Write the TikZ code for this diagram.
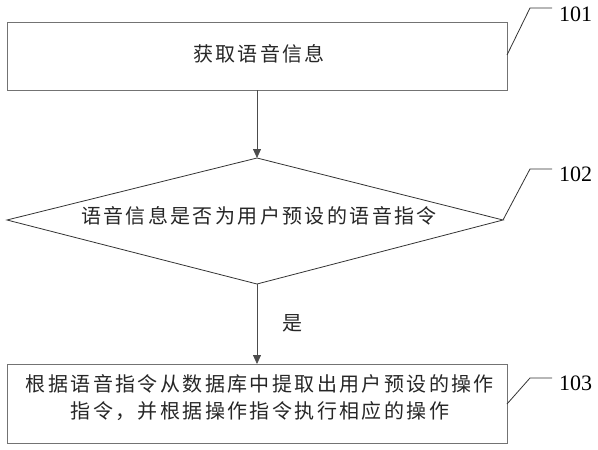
\documentclass[tikz,border=0pt]{standalone}
\usepackage{fontspec}
\setmainfont{Liberation Serif}
\newfontfamily\cjk[LetterSpace=12]{Noto Sans CJK SC}
\usetikzlibrary{shapes.geometric,arrows.meta}
\begin{document}
\begin{tikzpicture}[x=1pt,y=-1pt,
  boxst/.style={draw=black!55,line width=0.8pt},
  diast/.style={draw=black!80,line width=0.8pt},
  txt/.style={font=\cjk\fontsize{20}{27}\selectfont,text=black!85},
  lead/.style={draw=black!80,line width=0.8pt},
  numst/.style={font=\fontsize{22}{24}\selectfont,anchor=west,inner sep=0pt},
  arr/.style={draw=black!70,line width=0.8pt,-{Triangle[length=9pt,width=8pt]}}]
\useasboundingbox (0,0) rectangle (598,450);
% box 1
\coordinate (b1nw) at (7,22);
\coordinate (b1se) at (507,90);
\draw[boxst] (b1nw) rectangle (b1se);
\node[txt] (t1) at (259,54) {获取语音信息};
\coordinate (b1b) at (257,90);
% diamond
\coordinate (dT) at (257,158);
\coordinate (dR) at (503,220);
\coordinate (dB) at (257,284);
\coordinate (dL) at (7,220);
\draw[diast] (dT) -- (dR) -- (dB) -- (dL) -- cycle;
\node[txt] (t2) at (259,216) {语音信息是否为用户预设的语音指令};
% box 3
\coordinate (b3nw) at (7,364);
\coordinate (b3se) at (507,443);
\draw[boxst] (b3nw) rectangle (b3se);
\node[txt,align=center] (t3) at (260,398) {根据语音指令从数据库中提取出用户预设的操作\\指令，并根据操作指令执行相应的操作};
\coordinate (b3t) at (257,364);
% arrows
\draw[arr] (b1b) -- (dT);
\draw[arr] (dB) -- (b3t);
\node[txt] (yes) at (292,323) {是};
% leaders
\coordinate (l1a) at (507,55);
\coordinate (l1b) at (530,8);
\coordinate (l1c) at (552,8);
\draw[lead] (l1a) -- (l1b) -- (l1c);
\node[numst] (n1) at (559,14) {101};
\coordinate (l2b) at (530,169);
\coordinate (l2c) at (552,169);
\draw[lead] (dR) -- (l2b) -- (l2c);
\node[numst] (n2) at (559,174) {102};
\coordinate (l3a) at (507,404);
\coordinate (l3b) at (530,378);
\coordinate (l3c) at (552,378);
\draw[lead] (l3a) -- (l3b) -- (l3c);
\node[numst] (n3) at (559,383) {103};
\end{tikzpicture}
\end{document}
